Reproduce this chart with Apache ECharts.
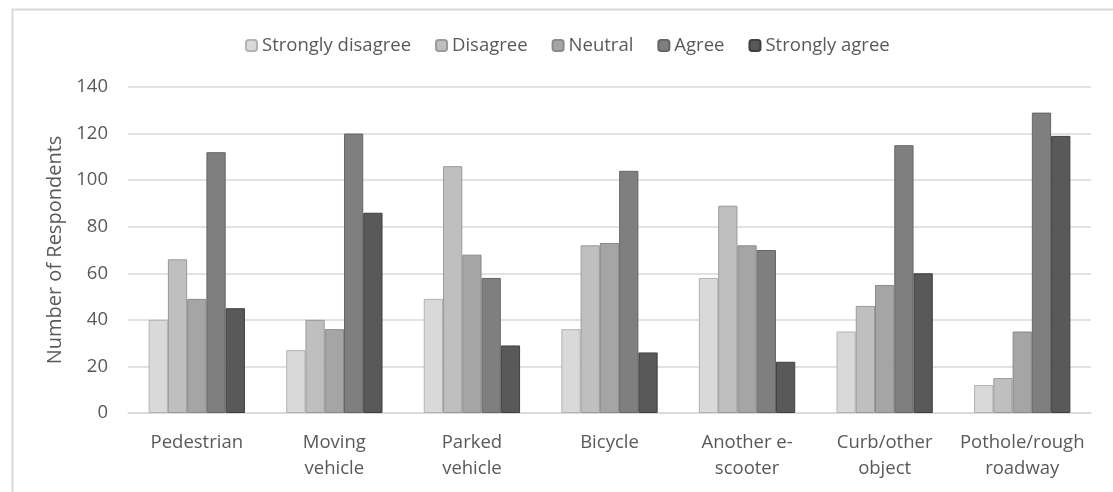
<!DOCTYPE html>
<html>
<head>
<meta charset="utf-8">
<script src="https://cdn.jsdelivr.net/npm/echarts@6/dist/echarts.min.js"></script>
<style>
  html, body { margin: 0; padding: 0; background: #ffffff; }
  #chart { width: 1113px; height: 492px; }
</style>
</head>
<body>
<div id="chart"></div>
<script>
// Collision partner categories
const categories = ['Pedestrian', 'Moving\nvehicle', 'Parked\nvehicle', 'Bicycle', 'Another e-\nscooter', 'Curb/other\nobject', 'Pothole/rough\nroadway'];

// Response counts per Likert level
const stronglyDisagree = [40, 27, 49, 36, 58, 35, 12];
const disagree         = [66, 40, 106, 72, 89, 46, 15];
const neutral          = [49, 36, 68, 73, 72, 55, 35];
const agree            = [112, 120, 58, 104, 70, 115, 129];
const stronglyAgree    = [45, 86, 29, 26, 22, 60, 119];

const yTicks = [0, 20, 40, 60, 80, 100, 120, 140];

const FONT = '"Open Sans", sans-serif';
const TEXT = '#595959';

const levels = [
  { name: 'Strongly disagree', data: stronglyDisagree, fill: '#d9d9d9', edge: '#b3b3b3' },
  { name: 'Disagree',          data: disagree,         fill: '#bfbfbf', edge: '#9a9a9a' },
  { name: 'Neutral',           data: neutral,          fill: '#a5a5a5', edge: '#8a8a8a' },
  { name: 'Agree',             data: agree,            fill: '#7f7f7f', edge: '#666666' },
  { name: 'Strongly agree',    data: stronglyAgree,    fill: '#595959', edge: '#3f3f3f' }
];

const chart = echarts.init(document.getElementById('chart'), null, { renderer: 'canvas' });

chart.setOption({
  backgroundColor: '#ffffff',
  animation: false,
  textStyle: { fontFamily: FONT, color: TEXT },
  graphic: [{
    type: 'rect',
    left: 10, top: 7,
    shape: { width: 1200, height: 600 },
    style: { fill: 'none', stroke: '#d9d9d9', lineWidth: 2 },
    silent: true
  }],
  legend: {
    top: 31,
    left: 240,
    itemWidth: 11,
    itemHeight: 11,
    itemGap: 24,
    textStyle: { fontFamily: FONT, fontSize: 18.5, color: TEXT },
    data: levels.map(l => l.name)
  },
  grid: { left: 128, right: 22, top: 87, bottom: 79, containLabel: false },
  xAxis: {
    type: 'category',
    data: categories,
    axisLine: { show: true, lineStyle: { color: '#d9d9d9', width: 1.5 } },
    axisTick: { show: false },
    axisLabel: {
      interval: 0,
      margin: 17,
      fontFamily: FONT,
      fontSize: 18.5,
      lineHeight: 26,
      color: TEXT
    }
  },
  yAxis: {
    type: 'value',
    min: yTicks[0],
    max: yTicks[yTicks.length - 1],
    interval: 20,
    name: 'Number of Respondents',
    nameLocation: 'middle',
    nameGap: 63,
    nameTextStyle: { fontFamily: FONT, fontSize: 20, color: TEXT },
    axisLine: { show: false },
    axisTick: { show: false },
    axisLabel: { margin: 20, fontFamily: FONT, fontSize: 18.5, color: TEXT },
    splitLine: { lineStyle: { color: '#d9d9d9', width: 1.5 } }
  },
  series: levels.map(l => ({
    name: l.name,
    type: 'bar',
    data: l.data,
    barGap: '0%',
    barCategoryGap: '30%',
    itemStyle: { color: l.fill, borderColor: l.edge, borderWidth: 1 }
  }))
});
</script>
</body>
</html>
